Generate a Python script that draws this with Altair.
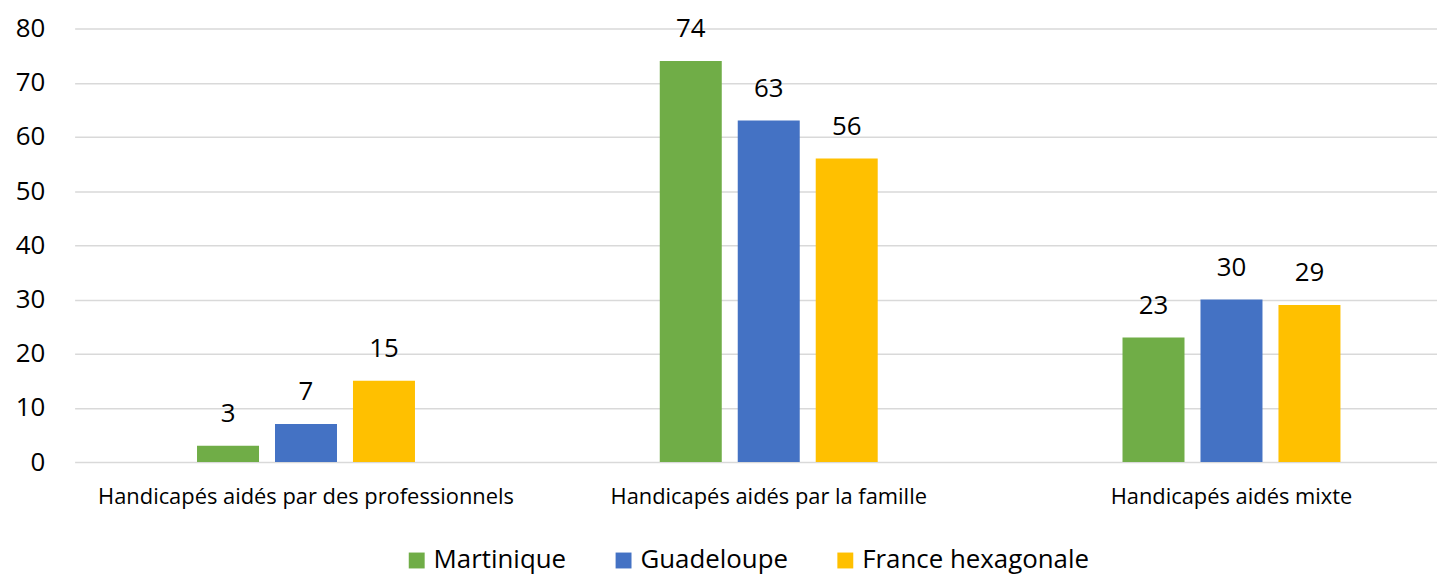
import altair as alt
import pandas as pd

categories = ["Handicapés aidés par des professionnels", "Handicapés aidés par la famille", "Handicapés aidés mixte"]
series = ["Martinique", "Guadeloupe", "France hexagonale"]
martinique = [3, 74, 23]
guadeloupe = [7, 63, 30]
france = [15, 56, 29]
colors = ["#70AD47", "#4472C4", "#FFC000"]

rows = []
for s, vals in zip(series, [martinique, guadeloupe, france]):
    for c, v in zip(categories, vals):
        rows.append({"cat": c, "series": s, "value": v})
df = pd.DataFrame(rows)

FONT = "Open Sans"

x = alt.X("cat:N", sort=categories, title=None,
          scale=alt.Scale(range=[2, 1398], paddingInner=0.529, paddingOuter=0.2645),
          axis=alt.Axis(labelAngle=0, labelFontSize=22, labelFont=FONT, labelColor="#000000",
                        ticks=False, domain=False, labelPadding=25, labelLimit=700))
xo = alt.XOffset("series:N", sort=series,
                 scale=alt.Scale(paddingInner=0.205, paddingOuter=0))
y = alt.Y("value:Q", title=None,
          scale=alt.Scale(domain=[0, 80]),
          axis=alt.Axis(values=list(range(0, 81, 10)), labelFontSize=26, labelFont=FONT,
                        labelColor="#000000", ticks=False, domain=False, labelPadding=28,
                        gridColor="#D9D9D9", gridWidth=1.5))
color = alt.Color("series:N", sort=series, title=None,
                  scale=alt.Scale(domain=series, range=colors),
                  legend=alt.Legend(orient="none", legendX=333, legendY=522,
                                    direction="horizontal", symbolType="square",
                                    symbolSize=256, symbolStrokeWidth=0, symbolOpacity=1,
                                    labelFontSize=26, labelFont=FONT, labelColor="#000000",
                                    labelLimit=400, columnPadding=44, labelOffset=4))

base = alt.Chart(df).encode(x=x, xOffset=xo, y=y)
bars = base.mark_bar().encode(color=color)
labels = base.mark_text(dy=-32, fontSize=26, font=FONT, color="#000000").encode(text="value:Q")

chart = (bars + labels).properties(
    width=1372, height=436,
    autosize=alt.AutoSizeParams(type="none"),
    padding={"left": 65, "top": 19, "right": 0, "bottom": 113},
).configure_view(stroke=None)

chart.save("out.html", embed_options={"renderer": "svg", "actions": False})
